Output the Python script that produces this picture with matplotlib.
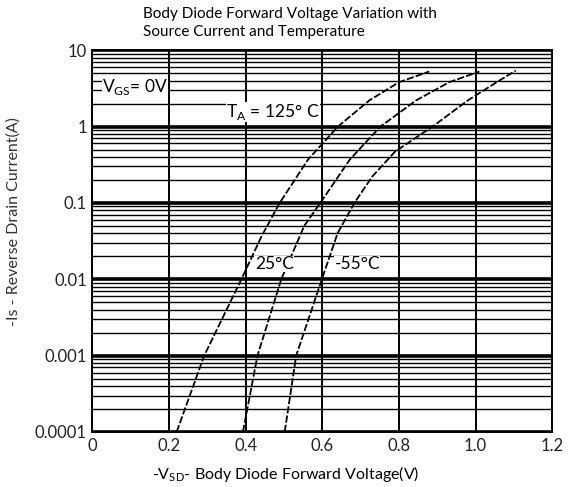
import matplotlib
matplotlib.use("Agg")
import matplotlib.pyplot as plt
from matplotlib.ticker import FixedLocator, LogLocator, NullFormatter

plt.rcParams['font.family'] = ['Lato', 'DejaVu Sans']

# forward voltage (V) vs source current (A)
v_125 = [0.22, 0.292, 0.389, 0.441, 0.489, 0.563, 0.641, 0.723, 0.80, 0.879]
i_125 = [1e-4, 1e-3, 1e-2, 0.036, 0.1, 0.37, 1.0, 2.2, 3.8, 5.25]

v_25 = [0.393, 0.431, 0.493, 0.553, 0.595, 0.672, 0.752, 0.845, 0.931, 1.01]
i_25 = [1e-4, 1e-3, 1e-2, 0.05, 0.1, 0.37, 1.0, 2.2, 3.8, 5.25]

v_m55 = [0.502, 0.532, 0.599, 0.640, 0.684, 0.73, 0.79, 0.888, 0.98, 1.055, 1.105]
i_m55 = [1e-4, 1e-3, 1e-2, 0.04, 0.1, 0.22, 0.47, 1.0, 2.2, 3.8, 5.4]

x_ticks = [0, 0.2, 0.4, 0.6, 0.8, 1.0, 1.2]
x_labels = ["0", "0.2", "0.4", "0.6", "0.8", "1.0", "1.2"]
y_ticks = [1e-4, 1e-3, 1e-2, 1e-1, 1, 10]
y_labels = ["0.0001", "0.001", "0.01", "0.1", "1", "10"]

fig = plt.figure(figsize=(5.77, 4.87), dpi=100)
ax = fig.add_axes([0.16, 0.113, 0.797, 0.784])

ax.set_yscale("log")
ax.set_xlim(0, 1.2)
ax.set_ylim(1e-4, 10)

# grid: thin lines at every minor log step, heavy ones at the decades
ax.yaxis.set_minor_locator(LogLocator(base=10, subs=range(2, 10)))
ax.yaxis.set_minor_formatter(NullFormatter())
ax.grid(True, which="minor", axis="y", color="black", lw=1.0)
ax.grid(True, which="major", axis="y", color="black", lw=2.6)
ax.grid(True, which="major", axis="x", color="black", lw=1.4)
ax.set_axisbelow(True)

ax.xaxis.set_major_locator(FixedLocator(x_ticks))
ax.set_xticklabels(x_labels)
ax.yaxis.set_major_locator(FixedLocator(y_ticks))
ax.set_yticklabels(y_labels)
ax.tick_params(which="both", length=0, labelsize=12, colors="#222222", pad=4)
for s in ax.spines.values():
    s.set_linewidth(1.4)

dash = (0, (4, 1.2))
for v, i in [(v_125, i_125), (v_25, i_25), (v_m55, i_m55)]:
    ax.plot(v, i, color="black", lw=1.3, linestyle=dash)

lbl_bg = dict(facecolor="white", edgecolor="none", pad=0.2)
ax.text(0.025, 3.3, "V$_{\\mathregular{GS}}$= 0V", fontsize=12.5, va="center", ha="left", bbox=lbl_bg)
ax.text(0.593, 1.55, "T$_{\\mathregular{A}}$ = 125° C", fontsize=12.5, va="center", ha="right", bbox=lbl_bg)
ax.text(0.424, 0.0158, "25°C", fontsize=12.5, va="center", ha="left", bbox=lbl_bg)
ax.text(0.632, 0.0158, "-55°C", fontsize=12.5, va="center", ha="left", bbox=lbl_bg)

fig.text(0.248, 0.985, "Body Diode Forward Voltage Variation with\nSource Current and Temperature",
         fontsize=11, ha="left", va="top", linespacing=1.3)

ax.set_xlabel("-V$_{\\mathregular{SD}}$- Body Diode Forward Voltage(V)", fontsize=11.5)
ax.xaxis.set_label_coords(0.42, -0.085)
ax.set_ylabel("-Is - Reverse Drain Current(A)", fontsize=11.5, color="#333333")
ax.yaxis.set_label_coords(-0.155, 0.55)

fig.savefig("out.png", dpi=100)
